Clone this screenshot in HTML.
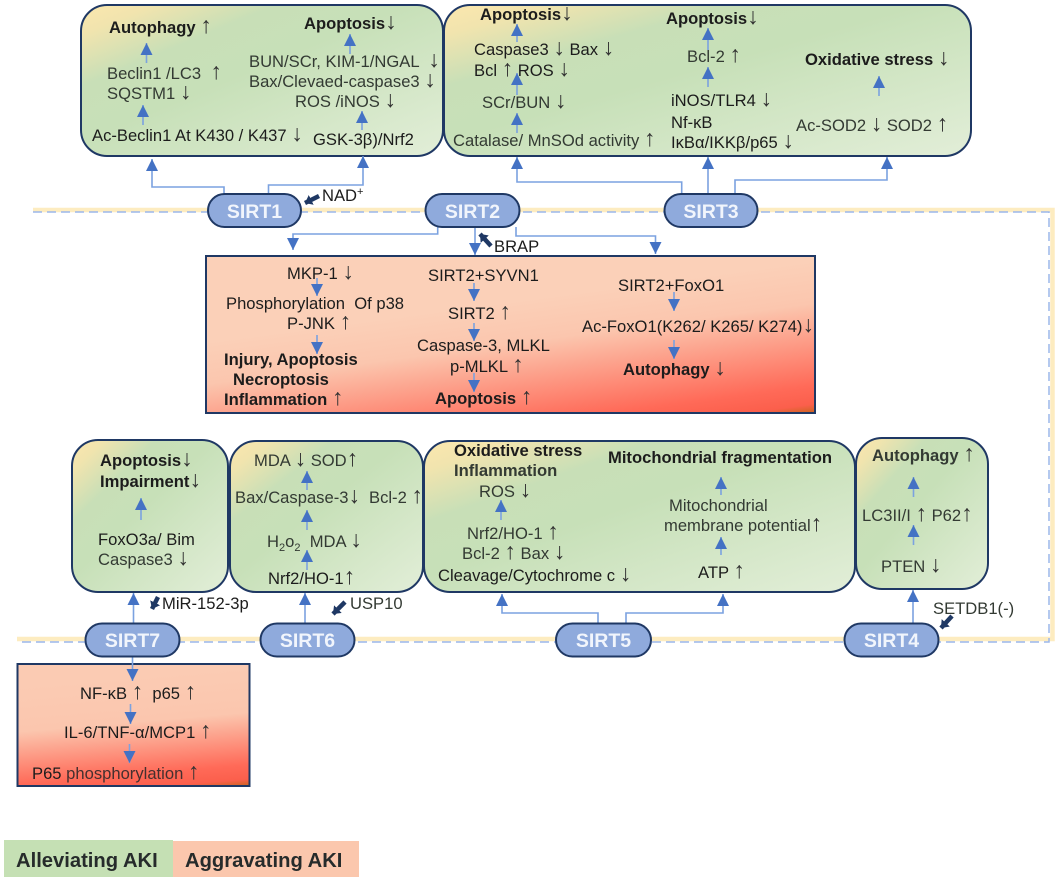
<!DOCTYPE html>
<html lang="en"><head><meta charset="utf-8"><title>SIRT pathways in AKI</title>
<style>
html,body{margin:0;padding:0;background:#fff;width:1059px;height:880px;overflow:hidden}
svg{display:block}
text{font-family:"Liberation Sans",Arial,sans-serif;font-size:16.6px;fill:#1c1c1c;white-space:pre}
.b{font-weight:700}
.g{fill:#333a33}
.u{font-size:23px;font-weight:400;fill:#333}
.p{font-weight:700;font-size:19.5px;fill:#f1f5fc;text-anchor:middle}
.l{font-weight:700;font-size:20.200px;fill:#262b2b}
.box{stroke:#1f3864;stroke-width:2}
.pill{fill:#8faadc;stroke:#1f3864;stroke-width:2}
.a,.c{fill:none;stroke:#7ba2e0;stroke-width:1.6;marker-end:url(#h)}
.d{fill:none;stroke:#1f3864;stroke-width:4.500;marker-end:url(#k)}
</style></head><body>
<svg width="1059" height="880" viewBox="0 0 1059 880" xmlns="http://www.w3.org/2000/svg">
<defs>
<marker id="h" markerUnits="userSpaceOnUse" markerWidth="12" markerHeight="12" refX="12" refY="6" orient="auto" viewBox="0 0 12 12"><polygon points="0,0 12,6 0,12" fill="#4472c4"/></marker>
<marker id="k" markerUnits="userSpaceOnUse" markerWidth="7" markerHeight="11" refX="7" refY="5.500" orient="auto" viewBox="0 0 7 11"><polygon points="0,0 7,5.500 0,11" fill="#1f3864"/></marker>
<linearGradient id="gr" x1="0" y1="0" x2="1" y2="1">
<stop offset="0" stop-color="#fce7ae"/><stop offset=".1" stop-color="#f1e4ae"/><stop offset=".27" stop-color="#c8dfb7"/><stop offset=".45" stop-color="#c7e0b8"/><stop offset="1" stop-color="#e2eed8"/>
</linearGradient>
<linearGradient id="r1" gradientUnits="userSpaceOnUse" x1="795" y1="263" x2="815" y2="413">
<stop offset="0" stop-color="#fbd0b8"/><stop offset=".28" stop-color="#fbc6ae"/><stop offset=".82" stop-color="#ff6a58"/><stop offset=".94" stop-color="#fb5f4c"/><stop offset="1" stop-color="#c9651e"/>
</linearGradient>
<linearGradient id="r2" gradientUnits="userSpaceOnUse" x1="240" y1="668" x2="250" y2="786">
<stop offset="0" stop-color="#fbcbb3"/><stop offset=".38" stop-color="#fbc6ae"/><stop offset=".82" stop-color="#ff6a58"/><stop offset=".94" stop-color="#fb5f4c"/><stop offset="1" stop-color="#c9651e"/>
</linearGradient>
</defs>

<!-- bands -->
<path d="M33 210H1052.500V639H17" fill="none" stroke="#fdecc0" stroke-width="4.500"/>
<path d="M33 212H1049V642H17" fill="none" stroke="#9cb7ea" stroke-width="1.500" stroke-dasharray="9 5"/>

<!-- boxes -->
<rect class="box" x="81" y="5" width="362" height="151" rx="26" fill="url(#gr)"/>
<rect class="box" x="444" y="5" width="527" height="151" rx="26" fill="url(#gr)"/>
<rect class="box" x="206" y="256" width="609" height="157" fill="url(#r1)"/>
<rect class="box" x="72" y="440" width="156" height="152" rx="26" fill="url(#gr)"/>
<rect class="box" x="230" y="441" width="193" height="151" rx="26" fill="url(#gr)"/>
<rect class="box" x="424" y="441" width="431" height="151" rx="26" fill="url(#gr)"/>
<rect class="box" x="856" y="438" width="132" height="151" rx="26" fill="url(#gr)"/>
<rect class="box" x="17.500" y="664" width="232" height="122" fill="url(#r2)"/>

<!-- legend -->
<rect x="4" y="840" width="169" height="37" fill="#c5e0b4"/>
<rect x="173" y="841" width="186" height="36" fill="#fbc7ad"/>
<text class="l" x="16" y="867">Alleviating AKI</text>
<text class="l" x="185" y="867">Aggravating AKI</text>

<!-- connectors -->
<path class="c" d="M224 194V187H152V159"/>
<path class="c" d="M268.500 194V185H363V156"/>
<path class="c" d="M681.700 194V182H517V157"/>
<path class="c" d="M708 194V157"/>
<path class="c" d="M735 194V180H887V157"/>
<path class="c" d="M437.700 227V234H293V250"/>
<path class="c" d="M475 227V255"/>
<path class="c" d="M516 227V236H655.500V254"/>
<path class="c" d="M133.500 623V593"/>
<path class="c" d="M305 623V593"/>
<path class="c" d="M598 624V613H502V594"/>
<path class="c" d="M626 624V613H723V594"/>
<path class="c" d="M913 624V590"/>
<path class="c" d="M132.500 657V681"/>

<!-- inner arrows -->
<path class="a" d="M146.500 63V43"/><path class="a" d="M143 125V105"/><path class="a" d="M350 54V34"/><path class="a" d="M362 130V111"/>
<path class="a" d="M517 42V24"/><path class="a" d="M517 95V73"/><path class="a" d="M517 133V113"/>
<path class="a" d="M708 50V28"/><path class="a" d="M708 87V67"/><path class="a" d="M879 96V76"/>
<path class="a" d="M317 278V296"/><path class="a" d="M317 335V354"/>
<path class="a" d="M474 283V301"/><path class="a" d="M474 323V341"/><path class="a" d="M474 373V392"/>
<path class="a" d="M674 292V311"/><path class="a" d="M674 340V359"/>
<path class="a" d="M141 520V498"/>
<path class="a" d="M307 490V471"/><path class="a" d="M307 530V510"/><path class="a" d="M307 570V550"/>
<path class="a" d="M501 520V500"/><path class="a" d="M721 495V477"/><path class="a" d="M721 555V537"/>
<path class="a" d="M913.500 497V477"/><path class="a" d="M913.500 545V525"/>
<path class="a" d="M130.500 704V724"/><path class="a" d="M129.500 744V763"/>

<!-- regulator arrows -->
<path class="d" d="M319 196L305 203"/>
<path class="d" d="M491 246L480 234"/>
<path class="d" d="M158 597L152 609"/>
<path class="d" d="M345 602L333 614"/>
<path class="d" d="M952 616L941 628"/>

<!-- pills -->
<rect class="pill" x="208" y="194" width="93" height="33" rx="16.500"/><text class="p" x="254.500" y="218">SIRT1</text>
<rect class="pill" x="425.500" y="194" width="94" height="33" rx="16.500"/><text class="p" x="472.500" y="218">SIRT2</text>
<rect class="pill" x="664.500" y="194" width="93" height="33" rx="16.500"/><text class="p" x="711" y="218">SIRT3</text>
<rect class="pill" x="85.500" y="623.500" width="94" height="33" rx="16.500"/><text class="p" x="132.500" y="647">SIRT7</text>
<rect class="pill" x="260.500" y="623.500" width="94" height="33" rx="16.500"/><text class="p" x="307.500" y="647">SIRT6</text>
<rect class="pill" x="556" y="623.500" width="95" height="33" rx="16.500"/><text class="p" x="603.500" y="647">SIRT5</text>
<rect class="pill" x="844.500" y="623.500" width="94" height="33" rx="16.500"/><text class="p" x="891.500" y="647">SIRT4</text>

<!-- box 1 -->
<text class="b" x="109" y="33">Autophagy <tspan class="u">↑</tspan></text>
<text class="g" x="107" y="79">Beclin1 /LC3  <tspan class="u">↑</tspan></text>
<text class="g" x="107" y="99">SQSTM1 <tspan class="u">↓</tspan></text>
<text x="92" y="141">Ac-Beclin1 At K430 / K437 <tspan class="u">↓</tspan></text>
<text x="313" y="145">GSK-3β)/Nrf2</text>
<text class="b" x="304" y="29">Apoptosis<tspan class="u">↓</tspan></text>
<text class="g" x="249" y="67">BUN/SCr, KIM-1/NGAL  <tspan class="u">↓</tspan></text>
<text class="g" x="249" y="87">Bax/Clevaed-caspase3 <tspan class="u">↓</tspan></text>
<text class="g" x="295" y="107">ROS /iNOS <tspan class="u">↓</tspan></text>
<text x="322" y="201">NAD<tspan font-size="11" dy="-6">+</tspan></text>

<!-- box 2 -->
<text class="b" x="480" y="20">Apoptosis<tspan class="u">↓</tspan></text>
<text x="474" y="55">Caspase3 <tspan class="u">↓</tspan> Bax <tspan class="u">↓</tspan></text>
<text x="474" y="76">Bcl <tspan class="u">↑</tspan> ROS <tspan class="u">↓</tspan></text>
<text class="g" x="482" y="108">SCr/BUN <tspan class="u">↓</tspan></text>
<text class="g" x="453" y="146">Catalase/ MnSOd activity <tspan class="u">↑</tspan></text>
<text class="b" x="666" y="24">Apoptosis<tspan class="u">↓</tspan></text>
<text class="g" x="687" y="62">Bcl-2 <tspan class="u">↑</tspan></text>
<text x="671" y="106">iNOS/TLR4 <tspan class="u">↓</tspan></text>
<text x="671" y="128">Nf-κB</text>
<text x="671" y="148">IκBα/IKKβ/p65 <tspan class="u">↓</tspan></text>
<text class="b" x="805" y="65">Oxidative stress <tspan class="u">↓</tspan></text>
<text class="g" x="796" y="131">Ac-SOD2 <tspan class="u">↓</tspan> SOD2 <tspan class="u">↑</tspan></text>

<!-- red box -->
<text x="494" y="252">BRAP</text>
<text x="287" y="279">MKP-1 <tspan class="u">↓</tspan></text>
<text x="226" y="309">Phosphorylation  Of p38</text>
<text x="287" y="329">P-JNK <tspan class="u">↑</tspan></text>
<text class="b" x="224" y="365">Injury, Apoptosis</text>
<text class="b" x="233" y="385">Necroptosis</text>
<text class="b" x="224" y="405">Inflammation <tspan class="u">↑</tspan></text>
<text x="428" y="281">SIRT2+SYVN1</text>
<text x="448" y="319">SIRT2 <tspan class="u">↑</tspan></text>
<text x="417" y="351">Caspase-3, MLKL</text>
<text x="450" y="372">p-MLKL <tspan class="u">↑</tspan></text>
<text class="b" x="435" y="404">Apoptosis <tspan class="u">↑</tspan></text>
<text x="618" y="291">SIRT2+FoxO1</text>
<text x="582" y="332">Ac-FoxO1(K262/ K265/ K274)<tspan class="u">↓</tspan></text>
<text class="b" x="623" y="375">Autophagy <tspan class="u">↓</tspan></text>

<!-- SIRT7 box -->
<text class="b" x="100" y="466">Apoptosis<tspan class="u">↓</tspan></text>
<text class="b" x="100" y="487">Impairment<tspan class="u">↓</tspan></text>
<text x="98" y="545">FoxO3a/ Bim</text>
<text class="g" x="98" y="565">Caspase3 <tspan class="u">↓</tspan></text>
<text x="162" y="609">MiR-152-3p</text>

<!-- SIRT6 box -->
<text class="g" x="254" y="466">MDA <tspan class="u">↓</tspan> SOD<tspan class="u">↑</tspan></text>
<text class="g" x="235" y="503">Bax/Caspase-3<tspan class="u">↓</tspan></text>
<text class="g" x="369" y="503">Bcl-2 <tspan class="u">↑</tspan></text>
<text class="g" x="267" y="547">H<tspan font-size="11" dy="4">2</tspan><tspan dy="-4">o</tspan><tspan font-size="11" dy="4">2</tspan><tspan dy="-4">  MDA </tspan><tspan class="u">↓</tspan></text>
<text x="268" y="584">Nrf2/HO-1<tspan class="u">↑</tspan></text>
<text class="g" x="350" y="609">USP10</text>

<!-- SIRT5 box -->
<text class="b" x="454" y="456">Oxidative stress</text>
<text class="b g" x="454" y="476">Inflammation</text>
<text class="g" x="479" y="497">ROS <tspan class="u">↓</tspan></text>
<text class="g" x="467" y="539">Nrf2/HO-1 <tspan class="u">↑</tspan></text>
<text class="g" x="462" y="559">Bcl-2 <tspan class="u">↑</tspan> Bax <tspan class="u">↓</tspan></text>
<text x="438" y="581">Cleavage/Cytochrome c <tspan class="u">↓</tspan></text>
<text class="b" x="608" y="463">Mitochondrial fragmentation</text>
<text class="g" x="669" y="511">Mitochondrial</text>
<text class="g" x="664" y="531">membrane potential<tspan class="u">↑</tspan></text>
<text x="698" y="578">ATP <tspan class="u">↑</tspan></text>

<!-- SIRT4 box -->
<text class="b g" x="872" y="461">Autophagy <tspan class="u">↑</tspan></text>
<text class="g" x="862" y="521">LC3II/I <tspan class="u">↑</tspan> P62<tspan class="u">↑</tspan></text>
<text class="g" x="881" y="572">PTEN <tspan class="u">↓</tspan></text>
<text class="g" x="933" y="614">SETDB1(-)</text>

<!-- bottom red -->
<text x="80" y="699">NF-κB <tspan class="u">↑</tspan>  p65 <tspan class="u">↑</tspan></text>
<text x="64" y="738">IL-6/TNF-α/MCP1 <tspan class="u">↑</tspan></text>
<text x="32" y="779">P65 <tspan fill="#45302f">phosphorylation </tspan><tspan class="u">↑</tspan></text>
</svg>
</body></html>
